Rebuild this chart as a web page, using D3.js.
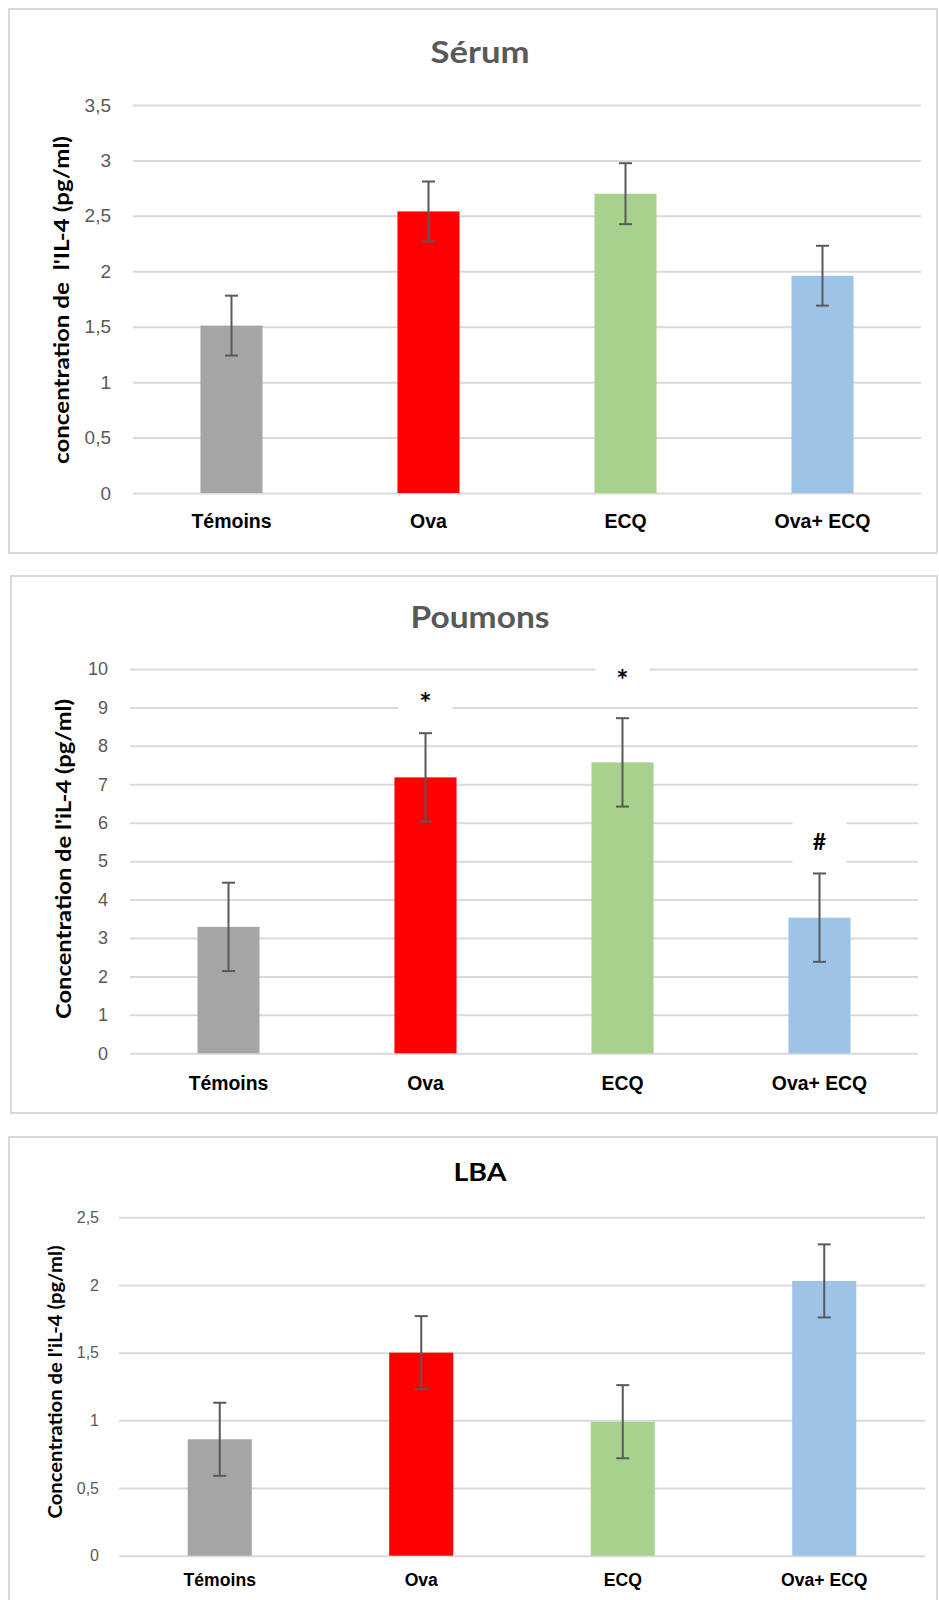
<!DOCTYPE html>
<html>
<head>
<meta charset="utf-8">
<script src="https://cdn.jsdelivr.net/npm/d3@7"></script>
<style>
  body { margin: 0; background: #fff; }
  svg { display: block; font-family: Lato, "Open Sans", sans-serif; }
</style>
</head>
<body>
<div id="container"></div>
<script>
// categories and colours shared by the three charts
var categories = ["Témoins", "Ova", "ECQ", "Ova+ ECQ"];
var barColors = ["#a5a5a5", "#ff0000", "#a9d18e", "#9dc3e6"];

// Sérum
var serumValues = [1.51, 2.54, 2.70, 1.96];
var serumErrors = [0.27, 0.27, 0.275, 0.27];
var serumTicks = [0, 0.5, 1, 1.5, 2, 2.5, 3, 3.5];

// Poumons
var poumonsValues = [3.29, 7.18, 7.57, 3.53];
var poumonsErrors = [1.15, 1.15, 1.15, 1.15];
var poumonsTicks = [0, 1, 2, 3, 4, 5, 6, 7, 8, 9, 10];
var poumonsMarks = ["", "*", "*", "#"];
var poumonsMarkLevels = [0, 9.26, 9.88, 5.5];

// LBA
var lbaValues = [0.86, 1.50, 0.99, 2.03];
var lbaErrors = [0.27, 0.27, 0.27, 0.27];
var lbaTicks = [0, 0.5, 1, 1.5, 2, 2.5];

// french decimal comma
var fr = d3.formatLocale({decimal: ",", thousands: " ", grouping: [3], currency: ["", " €"]});
var fmt = fr.format("~g");

var svg = d3.select("#container")
  .append("svg")
    .attr("width", 939)
    .attr("height", 1600);

function drawChart(opt) {
  var g = svg.append("g");

  // panel frame
  g.append("rect")
    .attr("x", opt.box[0]).attr("y", opt.box[1])
    .attr("width", opt.box[2]).attr("height", opt.box[3])
    .attr("fill", "#fff")
    .attr("stroke", "#d9d9d9")
    .attr("stroke-width", 2);

  var x = d3.scaleBand()
    .domain(categories)
    .range([opt.left, opt.right])
    .padding(0);

  var y = d3.scaleLinear()
    .domain([0, opt.ticks[opt.ticks.length - 1]])
    .range([opt.bottom, opt.top]);

  // gridlines + tick labels
  var yAxis = g.append("g")
    .attr("transform", "translate(" + opt.left + ",0)")
    .call(d3.axisLeft(y)
      .tickValues(opt.ticks)
      .tickFormat(fmt)
      .tickSize(-(opt.right - opt.left))
      .tickPadding(opt.tickPad));
  yAxis.select(".domain").remove();
  yAxis.selectAll("line").attr("stroke", "#d9d9d9").attr("stroke-width", 2);
  yAxis.selectAll("text")
    .attr("fill", "#595959")
    .style("font-size", opt.tickSize + "px");

  // category labels
  var xAxis = g.append("g")
    .attr("transform", "translate(0," + opt.bottom + ")")
    .call(d3.axisBottom(x).tickSize(0).tickPadding(opt.catPad));
  xAxis.select(".domain").remove();
  xAxis.selectAll("text")
    .attr("fill", "#000")
    .style("font-size", opt.catSize + "px")
    .style("font-weight", "bold");

  var bw = x.bandwidth() * opt.barFrac;
  var rows = categories.map(function(c, i) {
    return {c: c, v: opt.values[i], e: opt.errors[i], col: barColors[i],
            mark: opt.marks ? opt.marks[i] : "", level: opt.levels ? opt.levels[i] : 0};
  });

  // white boxes behind significance marks
  g.selectAll(".markbox")
    .data(rows.filter(function(d) { return d.mark; }))
    .enter()
    .append("rect")
      .attr("x", function(d) { return x(d.c) + x.bandwidth() / 2 - 27; })
      .attr("y", function(d) { return y(d.level) - 22; })
      .attr("width", 54)
      .attr("height", 44)
      .attr("fill", "#fff");

  // bars
  g.selectAll(".bar")
    .data(rows)
    .enter()
    .append("rect")
      .attr("x", function(d) { return x(d.c) + (x.bandwidth() - bw) / 2; })
      .attr("y", function(d) { return y(d.v); })
      .attr("width", bw)
      .attr("height", function(d) { return y(0) - y(d.v); })
      .attr("fill", function(d) { return d.col; });

  // error bars
  var eb = g.selectAll(".err")
    .data(rows)
    .enter()
    .append("g")
      .attr("stroke", "#595959")
      .attr("stroke-width", 2);
  eb.append("line")
    .attr("x1", function(d) { return x(d.c) + x.bandwidth() / 2; })
    .attr("x2", function(d) { return x(d.c) + x.bandwidth() / 2; })
    .attr("y1", function(d) { return y(d.v + d.e); })
    .attr("y2", function(d) { return y(d.v - d.e); });
  [1, -1].forEach(function(s) {
    eb.append("line")
      .attr("x1", function(d) { return x(d.c) + x.bandwidth() / 2 - 6.5; })
      .attr("x2", function(d) { return x(d.c) + x.bandwidth() / 2 + 6.5; })
      .attr("y1", function(d) { return y(d.v + s * d.e); })
      .attr("y2", function(d) { return y(d.v + s * d.e); });
  });

  // significance marks
  g.selectAll(".mark")
    .data(rows.filter(function(d) { return d.mark; }))
    .enter()
    .append("text")
      .attr("x", function(d) { return x(d.c) + x.bandwidth() / 2; })
      .attr("y", function(d) { return y(d.level); })
      .attr("dy", function(d) { return d.mark === "*" ? "0.55em" : "0.36em"; })
      .attr("text-anchor", "middle")
      .style("font-size", function(d) { return d.mark === "*" ? "29px" : "23px"; })
      .style("font-weight", "bold")
      .text(function(d) { return d.mark; });

  // title
  g.append("text")
    .attr("x", 480)
    .attr("y", opt.titleY)
    .attr("text-anchor", "middle")
    .attr("fill", opt.titleColor)
    .attr("textLength", opt.titleLen)
    .attr("lengthAdjust", "spacingAndGlyphs")
    .style("font-size", opt.titleSize + "px")
    .style("font-weight", "bold")
    .text(opt.title);

  // y axis title
  g.append("text")
    .attr("transform", "translate(" + opt.yLabelX + "," + opt.yLabelY + ") rotate(-90)")
    .attr("text-anchor", "middle")
    .attr("dy", "0.35em")
    .attr("fill", "#000")
    .attr("textLength", opt.yLabelLen)
    .attr("lengthAdjust", "spacingAndGlyphs")
    .style("font-size", opt.yLabelSize + "px")
    .style("font-weight", "bold")
    .style("white-space", "pre")
    .text(opt.yLabel);
}

drawChart({
  box: [9, 9, 928, 544],
  left: 133, right: 921, top: 105, bottom: 493,
  ticks: serumTicks, values: serumValues, errors: serumErrors,
  tickPad: 22, tickSize: 19, catPad: 21, catSize: 19.5, barFrac: 0.315,
  title: "Sérum", titleY: 63, titleSize: 31, titleLen: 99, titleColor: "#595959",
  yLabel: "concentration de  l'IL-4 (pg/ml)", yLabelX: 62, yLabelY: 300, yLabelLen: 328, yLabelSize: 21
});

drawChart({
  box: [11, 576, 926, 537],
  left: 130, right: 918, top: 669, bottom: 1053.3,
  ticks: poumonsTicks, values: poumonsValues, errors: poumonsErrors,
  marks: poumonsMarks, levels: poumonsMarkLevels,
  tickPad: 22, tickSize: 18, catPad: 23, catSize: 19.4, barFrac: 0.315,
  title: "Poumons", titleY: 628, titleSize: 31, titleLen: 139, titleColor: "#595959",
  yLabel: "Concentration de l'iL-4 (pg/ml)", yLabelX: 64, yLabelY: 859, yLabelLen: 320, yLabelSize: 21
});

drawChart({
  box: [9, 1137, 928, 470],
  left: 119, right: 925, top: 1217.3, bottom: 1555.7,
  ticks: lbaTicks, values: lbaValues, errors: lbaErrors,
  tickPad: 20, tickSize: 16, catPad: 18, catSize: 17.6, barFrac: 0.318,
  title: "LBA", titleY: 1181, titleSize: 24, titleLen: 53, titleColor: "#000",
  yLabel: "Concentration de l'iL-4 (pg/ml)", yLabelX: 56, yLabelY: 1382, yLabelLen: 273, yLabelSize: 18
});
</script>
</body>
</html>
